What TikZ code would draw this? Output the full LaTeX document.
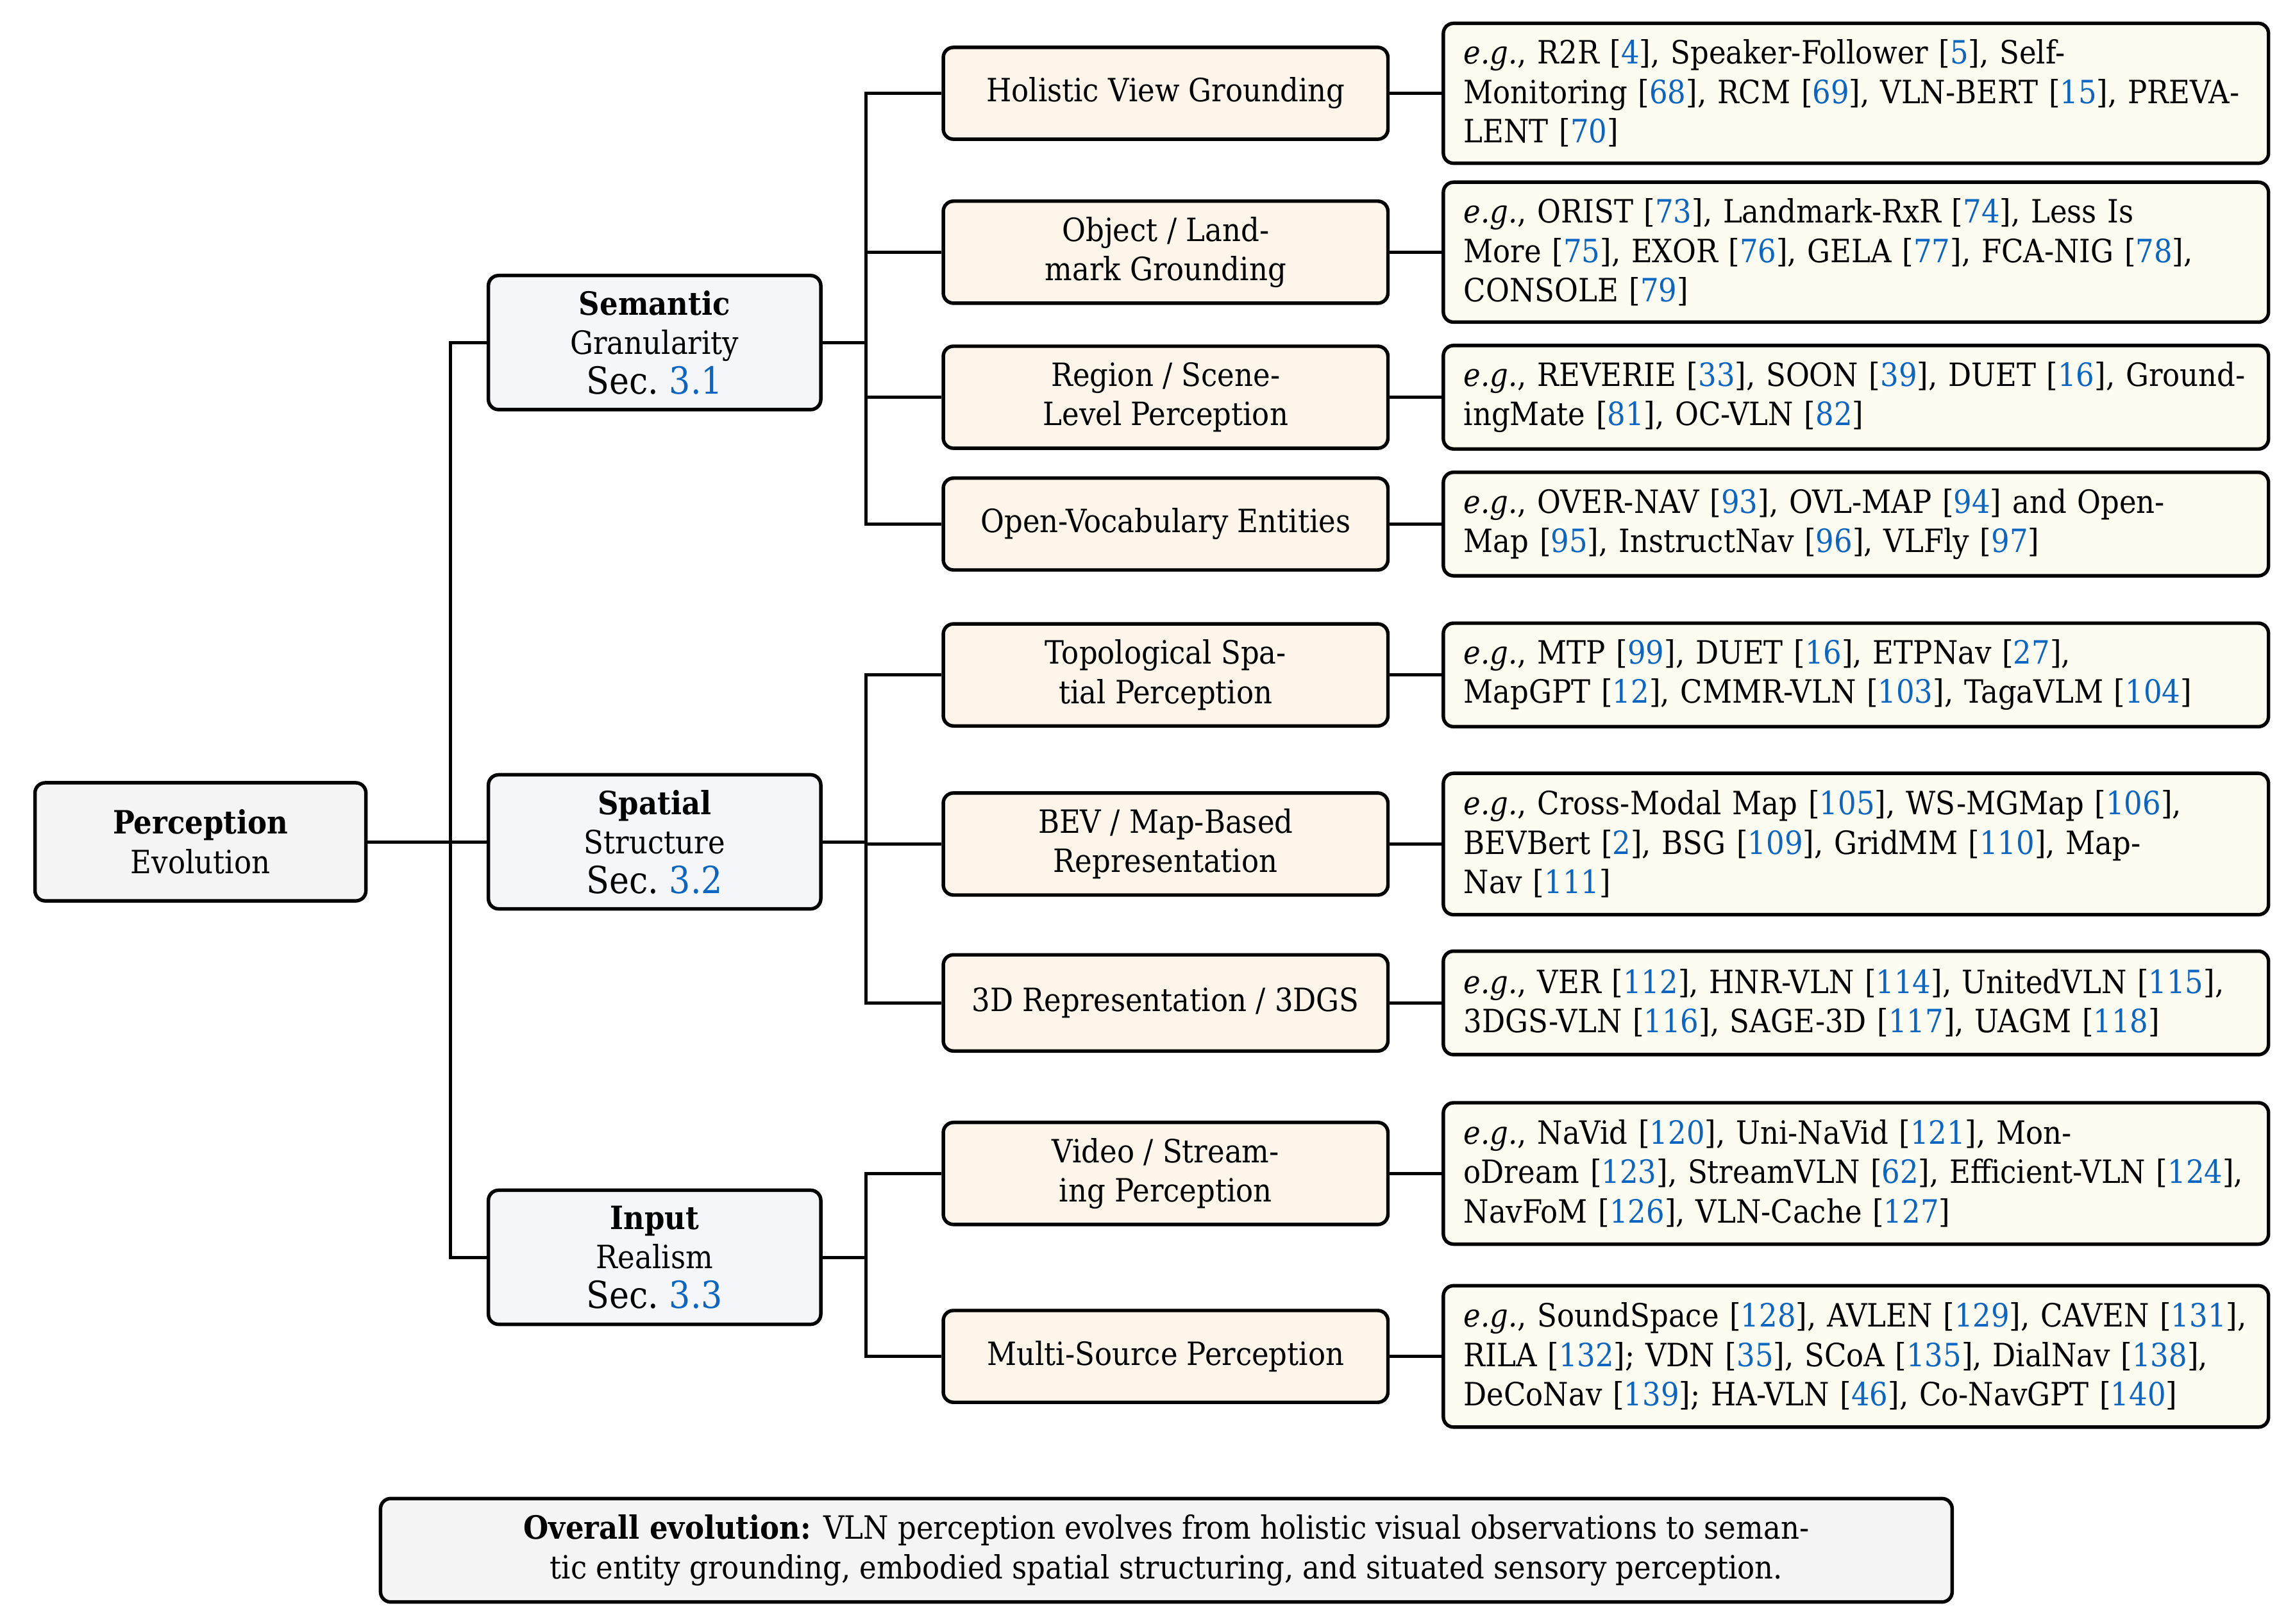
\documentclass[tikz,border=0pt]{standalone}
\usepackage{fontspec}
\setmainfont{DejaVu Serif Condensed}[
  BoldFont={DejaVu Serif Condensed Bold},
  ItalicFont={DejaVu Serif Condensed Italic},
  BoldItalicFont={DejaVu Serif Condensed Bold Italic}]
\usepackage{xcolor}

\definecolor{citeblue}{HTML}{0A66C2}
\definecolor{rootgray}{HTML}{F4F4F4}
\definecolor{secblue}{HTML}{F4F6FA}
\definecolor{topicpeach}{HTML}{FDF4EA}
\definecolor{leafcream}{HTML}{FEFCF0}

\newcommand{\eg}{\textit{e.g.}}
\newcommand{\citeref}[1]{[\textcolor{citeblue}{#1}]}
\newcommand{\secref}[1]{{\fontsize{12.8}{14}\selectfont Sec.~\textcolor{citeblue}{#1}}}

\tikzset{
  box/.style={draw, line width=1.2pt, rounded corners=3.5pt, align=center, inner sep=0pt,
    font=\fontsize{11}{13.5}\selectfont},
  rootbox/.style={box, fill=rootgray, minimum width=113.5pt, minimum height=40.5pt},
  secbox/.style={box, fill=secblue, minimum width=114pt, minimum height=46pt},
  topicbox/.style={box, fill=topicpeach, minimum width=152.5pt, minimum height=35pt},
  leafbox/.style={box, fill=leafcream, text width=269pt, align=left, inner xsep=7pt,
    minimum height=35.5pt},
  link/.style={line width=1.1pt},
}

\begin{document}
\begin{tikzpicture}[x=0.5pt, y=-0.5pt]
  \useasboundingbox (0,0) rectangle (1568,1114);

  % root and sections
  \node[rootbox] (perception) at (137.5,577.5) {\textbf{Perception}\\Evolution};
  \node[secbox] (semantic) at (449,235) {\textbf{Semantic}\\Granularity\\\secref{3.1}};
  \node[secbox] (spatial) at (449,577.5) {\textbf{Spatial}\\Structure\\\secref{3.2}};
  \node[secbox] (input) at (449,862.5) {\textbf{Input}\\Realism\\\secref{3.3}};

  % topics
  \node[topicbox, minimum height=31.5pt] (holistic) at (799.5,64) {Holistic View Grounding};
  \node[topicbox] (object) at (799.5,173) {Object / Land-\\mark Grounding};
  \node[topicbox] (region) at (799.5,272.5) {Region / Scene-\\Level Perception};
  \node[topicbox, minimum height=31.5pt] (openvocab) at (799.5,359.5) {Open-Vocabulary Entities};
  \node[topicbox] (topological) at (799.5,463) {Topological Spa-\\tial Perception};
  \node[topicbox] (bev) at (799.5,579) {BEV / Map-Based\\Representation};
  \node[topicbox, minimum height=33pt] (threed) at (799.5,688) {3D Representation / 3DGS};
  \node[topicbox] (video) at (799.5,805) {Video / Stream-\\ing Perception};
  \node[topicbox, minimum height=31.5pt] (multisource) at (799.5,930.5) {Multi-Source Perception};

  % examples
  \node[leafbox, minimum height=48pt] (holisticex) at (1273,64)
    {\eg, R2R \citeref{4}, Speaker-Follower \citeref{5}, Self-\\Monitoring \citeref{68}, RCM \citeref{69}, VLN-BERT \citeref{15}, PREVA-\\LENT \citeref{70}};
  \node[leafbox, minimum height=48pt] (objectex) at (1273,173)
    {\eg, ORIST \citeref{73}, Landmark-RxR \citeref{74}, Less Is\\More \citeref{75}, EXOR \citeref{76}, GELA \citeref{77}, FCA-NIG \citeref{78},\\CONSOLE \citeref{79}};
  \node[leafbox] (regionex) at (1273,272.5)
    {\eg, REVERIE \citeref{33}, SOON \citeref{39}, DUET \citeref{16}, Ground-\\ingMate \citeref{81}, OC-VLN \citeref{82}};
  \node[leafbox] (openvocabex) at (1273,359.5)
    {\eg, OVER-NAV \citeref{93}, OVL-MAP \citeref{94} and Open-\\Map \citeref{95}, InstructNav \citeref{96}, VLFly \citeref{97}};
  \node[leafbox] (topologicalex) at (1273,463)
    {\eg, MTP \citeref{99}, DUET \citeref{16}, ETPNav \citeref{27},\\MapGPT \citeref{12}, CMMR-VLN \citeref{103}, TagaVLM \citeref{104}};
  \node[leafbox, minimum height=48.5pt] (bevex) at (1273,579)
    {\eg, Cross-Modal Map \citeref{105}, WS-MGMap \citeref{106},\\BEVBert \citeref{2}, BSG \citeref{109}, GridMM \citeref{110}, Map-\\Nav \citeref{111}};
  \node[leafbox] (threedex) at (1273,688)
    {\eg, VER \citeref{112}, HNR-VLN \citeref{114}, UnitedVLN \citeref{115},\\3DGS-VLN \citeref{116}, SAGE-3D \citeref{117}, UAGM \citeref{118}};
  \node[leafbox, minimum height=48.5pt] (videoex) at (1273,805)
    {\eg, NaVid \citeref{120}, Uni-NaVid \citeref{121}, Mon-\\oDream \citeref{123}, StreamVLN \citeref{62}, Efficient-VLN \citeref{124},\\NavFoM \citeref{126}, VLN-Cache \citeref{127}};
  \node[leafbox, minimum height=48.5pt] (multisourceex) at (1273,930.5)
    {\eg, SoundSpace \citeref{128}, AVLEN \citeref{129}, CAVEN \citeref{131},\\RILA \citeref{132}; VDN \citeref{35}, SCoA \citeref{135}, DialNav \citeref{138},\\DeCoNav \citeref{139}; HA-VLN \citeref{46}, Co-NavGPT \citeref{140}};

  % summary
  \node[box, fill=rootgray, minimum width=539pt, minimum height=35.5pt] (summary) at (800,1063.5)
    {\textbf{Overall evolution:} VLN perception evolves from holistic visual observations to seman-\\tic entity grounding, embodied spatial structuring, and situated sensory perception.};

  % tree links
  \coordinate (roottrunk) at (309,577.5);
  \foreach \s in {semantic,spatial,input}
    \draw[link] (perception.east) -- (roottrunk) |- (\s.west);
  \coordinate (semtrunk) at (594,235);
  \foreach \t in {holistic,object,region,openvocab}
    \draw[link] (semantic.east) -- (semtrunk) |- (\t.west);
  \coordinate (spatrunk) at (594,577.5);
  \foreach \t in {topological,bev,threed}
    \draw[link] (spatial.east) -- (spatrunk) |- (\t.west);
  \coordinate (inptrunk) at (594,862.5);
  \foreach \t in {video,multisource}
    \draw[link] (input.east) -- (inptrunk) |- (\t.west);
  \foreach \t in {holistic,object,region,openvocab,topological,bev,threed,video,multisource}
    \draw[link] (\t.east) -- (\t ex.west);
\end{tikzpicture}
\end{document}
